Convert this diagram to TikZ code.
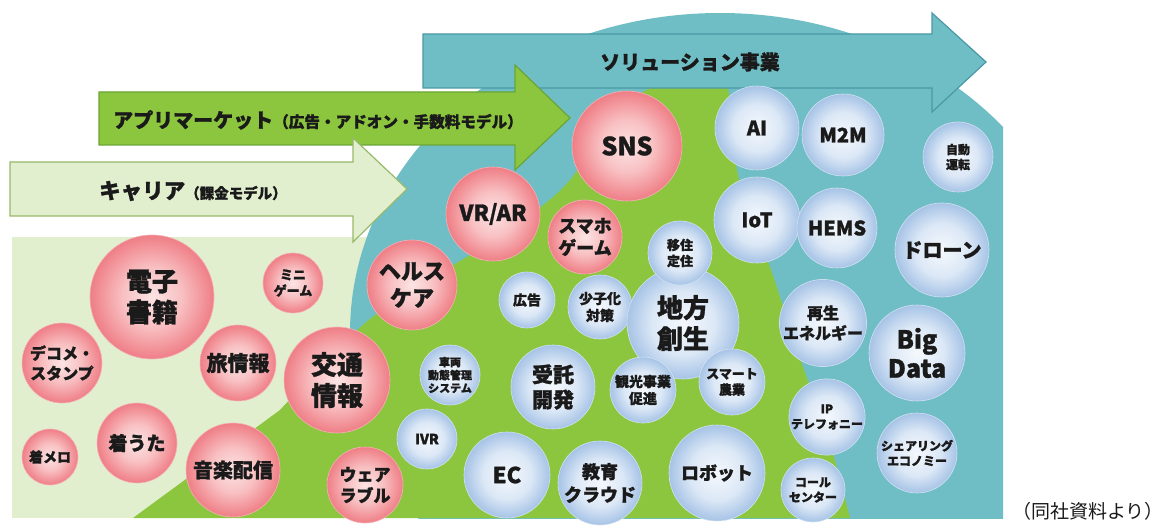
\documentclass[tikz,border=0pt]{standalone}
\usepackage{fontspec}
\setmainfont{Noto Sans CJK JP}[BoldFeatures={FakeBold=1.2}]
\definecolor{tealc}{HTML}{70BEC5}
\definecolor{tealline}{HTML}{4A98A6}
\definecolor{greenc}{HTML}{8CC63F}
\definecolor{greenline}{HTML}{6AA535}
\definecolor{lgreen}{HTML}{E1EFCF}
\definecolor{lgreenline}{HTML}{98B86A}
\definecolor{txt}{HTML}{1A1A1A}
\definecolor{pkA}{HTML}{FCE4E4}
\definecolor{pkB}{HTML}{F8C0C2}
\definecolor{pkC}{HTML}{EF7E86}
\definecolor{blA}{HTML}{F4F8FD}
\definecolor{blB}{HTML}{DCE8F6}
\definecolor{blC}{HTML}{A6C3E6}
\pgfdeclareradialshading{pinkbub}{\pgfpoint{0bp}{0bp}}{color(0bp)=(pkA); color(12bp)=(pkB); color(25bp)=(pkC); color(50bp)=(pkC)}
\pgfdeclareradialshading{bluebub}{\pgfpoint{0bp}{0bp}}{color(0bp)=(blA); color(14bp)=(blB); color(25bp)=(blC); color(50bp)=(blC)}
\newcommand\fz[2]{\fontsize{#1}{#2}\selectfont}
\tikzset{
  bub/.style={circle, inner sep=0pt, align=center, text=txt},
  pb/.style={bub, shading=pinkbub, draw=white!40!pkC, line width=0.6pt},
  bb/.style={bub, shading=bluebub, draw=white!50!blC, line width=0.6pt},
  arrowtext/.style={text=txt, anchor=west, inner sep=0pt}
}
\begin{document}
\begin{tikzpicture}[x=1pt, y=-1pt]
\useasboundingbox (0,0) rectangle (1162,529);
% light green background
\fill[lgreen] (12,237) rectangle (380,518);
% teal region
\begin{scope}
  \clip (0,0) rectangle (1003,518);
  \fill[tealc] (720,333) ellipse [x radius=370, y radius=320];
\end{scope}
% green region
\fill[greenc] (133,518) -- plot[smooth, tension=0.55] coordinates {(280,410) (355,332) (410,290) (470,255) (530,215) (570,180) (610,120) (650,88) (690,82) (726,86) (731,130) (742,192) (770,267) (803,367) (827,433) (850,518)} -- cycle;
% solution arrow
\draw[fill=tealc, draw=tealline, line width=1.2pt, line join=miter]
  (423,34) -- (932,34) -- (932,13) -- (986,62) -- (932,112) -- (932,88) -- (423,88) -- cycle;
\node[arrowtext, font=\bfseries\fz{20}{24}] (sol) at (600,62) {ソリューション事業};
% app arrow
\draw[fill=greenc, draw=greenline, line width=1.2pt, line join=miter]
  (99,92) -- (515,92) -- (515,65) -- (570,118) -- (515,170) -- (515,145) -- (99,145) -- cycle;
\node[arrowtext] (app) at (113,120) {\bfseries\fz{20}{24}アプリマーケット\fz{15.6}{18}（広告・アドオン・手数料モデル）};
% carrier arrow
\draw[fill=lgreen, draw=lgreenline, line width=1.2pt, line join=miter]
  (10,162) -- (353,162) -- (353,138) -- (407,189) -- (353,242) -- (353,216) -- (10,216) -- cycle;
\node[arrowtext] (car) at (99,191) {\bfseries\fz{21.5}{24}キャリア\fz{14.5}{17}（課金モデル）};
% pink circles
\node[pb, minimum size=124, font=\bfseries\fz{26}{31}] (denshi) at (152,297) {電子\\書籍};
\node[pb, minimum size=60, font=\bfseries\fz{13}{16}] (mini) at (293,283) {ミニ\\ゲーム};
\node[pb, minimum size=80, font=\bfseries\fz{16}{20}] (deco) at (62,363) {デコメ・\\スタンプ};
\node[pb, minimum size=76, font=\bfseries\fz{21}{25}] (tabi) at (238,363) {旅情報};
\node[pb, minimum size=106, font=\bfseries\fz{26}{31}] (kotsu) at (337,380) {交通\\情報};
\node[pb, minimum size=90, font=\bfseries\fz{22}{27}] (health) at (412,285) {ヘルス\\ケア};
\node[pb, minimum size=56, font=\bfseries\fz{14}{17}] (melo) at (50,457) {着メロ};
\node[pb, minimum size=80, font=\bfseries\fz{19}{23}] (uta) at (137,443) {着うた};
\node[pb, minimum size=94, font=\bfseries\fz{20}{24}] (ongaku) at (233,470) {音楽配信};
\node[pb, minimum size=76, font=\bfseries\fz{17}{21}] (wear) at (365,485) {ウェア\\ラブル};
\node[pb, minimum size=94, font=\bfseries\fz{22}{26}] (vrar) at (493,214) {VR/AR};
\node[pb, minimum size=74, font=\bfseries\fz{18}{22}] (sumaho) at (585,237) {スマホ\\ゲーム};
\node[pb, minimum size=110, font=\bfseries\fz{25}{30}] (sns) at (627,146) {SNS};
% blue circles
\node[bb, minimum size=60, font=\bfseries\fz{11}{13}] (sharyo) at (450,375) {車両\\動態管理\\システム};
\node[bb, minimum size=60, font=\bfseries\fz{14}{17}] (ivr) at (427,439) {IVR};
\node[bb, minimum size=56, font=\bfseries\fz{14}{17}] (kokoku) at (527,300) {広告};
\node[bb, minimum size=64, font=\bfseries\fz{14}{17}] (shoshi) at (600,307) {少子化\\対策};
\node[bb, minimum size=112, font=\bfseries\fz{26}{31}] (chiho) at (683,323) {地方\\創生};
\node[bb, minimum size=64, font=\bfseries\fz{13}{16}] (iju) at (680,253) {移住\\定住};
\node[bb, minimum size=84, font=\bfseries\fz{21}{25}] (jutaku) at (553,387) {受託\\開発};
\node[bb, minimum size=66, font=\bfseries\fz{14}{17}] (kanko) at (643,390) {観光事業\\促進};
\node[bb, minimum size=66, font=\bfseries\fz{13}{16}] (smart) at (732,382) {スマート\\農業};
\node[bb, minimum size=86, font=\bfseries\fz{22}{26}] (ec) at (507,475) {EC};
\node[bb, minimum size=84, font=\bfseries\fz{18}{23}] (kyoiku) at (600,483) {教育\\クラウド};
\node[bb, minimum size=96, font=\bfseries\fz{18}{22}] (robot) at (717,473) {ロボット};
\node[bb, minimum size=84, font=\bfseries\fz{20}{24}] (ai) at (757,128) {AI};
\node[bb, minimum size=82, font=\bfseries\fz{20}{24}] (m2m) at (843,135) {M2M};
\node[bb, minimum size=70, font=\bfseries\fz{12}{15}] (jido) at (958,157) {自動\\運転};
\node[bb, minimum size=86, font=\bfseries\fz{20}{24}] (iot) at (757,220) {IoT};
\node[bb, minimum size=80, font=\bfseries\fz{20}{24}] (hems) at (837,228) {HEMS};
\node[bb, minimum size=94, font=\bfseries\fz{20}{24}] (drone) at (942,250) {ドローン};
\node[bb, minimum size=86, font=\bfseries\fz{16}{20}] (saisei) at (823,323) {再生\\エネルギー};
\node[bb, minimum size=96, font=\bfseries\fz{25}{29}] (bigdata) at (917,353) {Big\\Data};
\node[bb, minimum size=76, font=\bfseries\fz{12}{15}] (ip) at (827,417) {IP\\テレフォニー};
\node[bb, minimum size=80, font=\bfseries\fz{12}{15}] (share) at (917,453) {シェアリング\\エコノミー};
\node[bb, minimum size=64, font=\bfseries\fz{12}{15}] (call) at (813,490) {コール\\センター};
% caption
\node[text=txt, font=\fz{19}{22}, inner sep=0pt] (cap) at (1088,511) {（同社資料より）};
\end{tikzpicture}
\end{document}
